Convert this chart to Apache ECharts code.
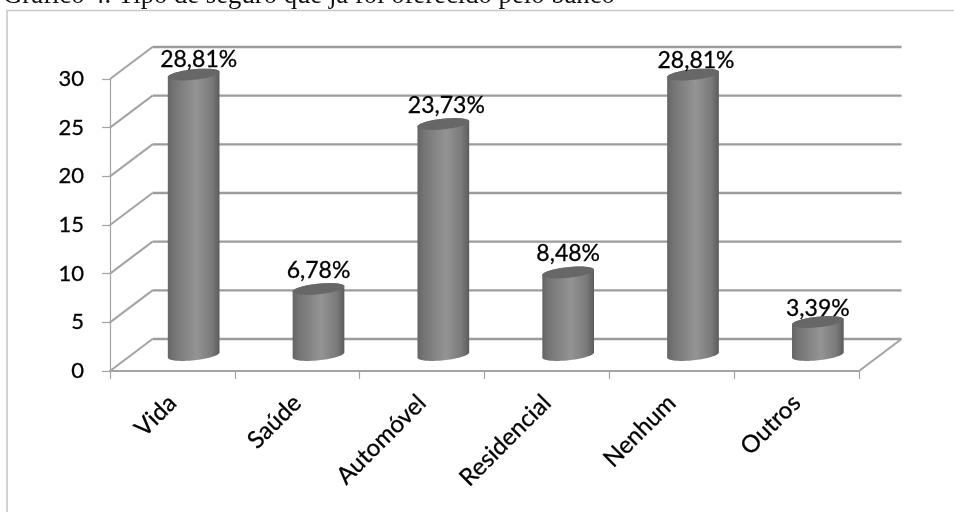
<!DOCTYPE html>
<html>
<head>
<meta charset="utf-8">
<style>html,body{margin:0;padding:0;background:#fff}#chart{width:954px;height:512px}</style>
<script src="https://cdn.jsdelivr.net/npm/echarts@6/dist/echarts.min.js"></script>
</head>
<body>
<div id="chart"></div>
<script>
// Tipo de seguro oferecido pelo banco (%)
var categories = ['Vida', 'Saúde', 'Automóvel', 'Residencial', 'Nenhum', 'Outros'];
var values = [28.81, 6.78, 23.73, 8.48, 28.81, 3.39];
var yTicks = [0, 5, 10, 15, 20, 25, 30];
var titleText = 'Gráfico 4. Tipo de seguro que já foi oferecido pelo banco';

// Depth of the pseudo-3D plot box, in pixels
var DEPTH_X = 42.5, DEPTH_Y = -32;
var RX = 26, RY = 5.3, TILT = -6 * Math.PI / 180;
// Per-label adjustment above each cylinder top
var labelNudge = [[5, -15], [0, -18], [3, -18], [0, -19], [3, -14], [0, -13]];

function ellipsePoints(cx, cy, from, to, n) {
  var pts = [];
  for (var i = 0; i <= n; i++) {
    var t = from + (to - from) * i / n;
    var ex = RX * Math.cos(t), ey = RY * Math.sin(t);
    pts.push([
      cx + ex * Math.cos(TILT) - ey * Math.sin(TILT),
      cy + ex * Math.sin(TILT) + ey * Math.cos(TILT)
    ]);
  }
  return pts;
}

var bodyGradient = {
  type: 'linear', x: 0, y: 0, x2: 1, y2: 0,
  colorStops: [
    { offset: 0, color: '#656565' },
    { offset: 0.12, color: '#747474' },
    { offset: 0.55, color: '#949494' },
    { offset: 0.85, color: '#7a7a7a' },
    { offset: 1, color: '#5c5c5c' }
  ]
};

function renderWall(params, api) {
  var v = api.value(0);
  var a = api.coord([0, v]);
  var size = api.size([1, 0]);
  var left = a[0] - size[0] / 2;
  var right = left + size[0] * categories.length;
  var y = a[1];
  var style = { stroke: '#a3a3a3', lineWidth: 2, fill: null };
  var children = [
    { type: 'line', shape: { x1: left, y1: y, x2: left + DEPTH_X, y2: y + DEPTH_Y }, style: style },
    { type: 'line', shape: { x1: left + DEPTH_X, y1: y + DEPTH_Y, x2: right + DEPTH_X, y2: y + DEPTH_Y },
      style: { stroke: '#9c9c9c', lineWidth: 2.4, fill: null } }
  ];
  if (v === 0) {
    children.push({ type: 'line', shape: { x1: right, y1: y, x2: right + DEPTH_X, y2: y + DEPTH_Y }, style: style });
  }
  return { type: 'group', children: children };
}

function renderCylinder(params, api) {
  var i = api.value(0), v = api.value(1);
  var top = api.coord([i, v]);
  var base = api.coord([i, 0]);
  var cx = top[0] + DEPTH_X / 2, topY = top[1] + DEPTH_Y / 2, baseY = base[1] + DEPTH_Y / 2;
  var body = ellipsePoints(cx, baseY, 0, Math.PI, 40)
    .concat(ellipsePoints(cx, topY, Math.PI, 2 * Math.PI, 40));
  var cap = ellipsePoints(cx, topY, 0, 2 * Math.PI, 60);
  var nudge = labelNudge[i];
  return {
    type: 'group',
    children: [
      { type: 'polygon', shape: { points: body }, style: { fill: bodyGradient } },
      { type: 'polygon', shape: { points: cap }, style: { fill: '#676767' } },
      { type: 'text', x: cx + nudge[0], y: topY + nudge[1], style: {
          text: v.toFixed(2).replace('.', ',') + '%',
          font: '23px Lato', fill: '#000', stroke: '#000', lineWidth: 0.3,
          align: 'center', verticalAlign: 'middle'
      } }
    ]
  };
}

var chart = echarts.init(document.getElementById('chart'), null, { renderer: 'canvas' });
chart.setOption({
  animation: false,
  backgroundColor: '#fff',
  graphic: [
    { type: 'rect', silent: true, shape: { x: 7, y: 10.5, width: 980, height: 540 },
      style: { fill: null, stroke: '#c9c9c9', lineWidth: 1.6 } },
    { type: 'text', silent: true, x: 3, y: 9.5, style: {
        text: titleText, font: '26.7px "Liberation Serif"', fill: '#111', verticalAlign: 'bottom'
    } }
  ],
  grid: { left: 110, right: 95, top: 79, bottom: 141 },
  xAxis: {
    type: 'category',
    data: categories,
    axisLine: { lineStyle: { color: '#a3a3a3', width: 2 } },
    axisTick: { show: true, length: 8, lineStyle: { color: '#a3a3a3', width: 1.2 } },
    axisLabel: { rotate: 45, margin: 28, fontFamily: 'Lato', fontSize: 24, color: '#000', interval: 0,
      textBorderColor: '#000', textBorderWidth: 0.3 },
    splitLine: { show: false }
  },
  yAxis: {
    type: 'value', min: 0, max: 30, interval: 5,
    axisLine: { show: true, lineStyle: { color: '#a3a3a3', width: 1.2 } },
    axisTick: { show: true, length: 8, lineStyle: { color: '#a3a3a3', width: 1.2 } },
    axisLabel: { margin: 26, fontFamily: 'Lato', fontSize: 22, color: '#000', padding: [7, 0, 0, 0],
      textBorderColor: '#000', textBorderWidth: 0.3 },
    splitLine: { show: false }
  },
  series: [
    { type: 'custom', name: 'wall', silent: true, clip: false, z: 1,
      data: yTicks.map(function (t) { return [t]; }),
      encode: { y: 0 }, renderItem: renderWall },
    { type: 'custom', name: 'Seguro', silent: true, clip: false, z: 3,
      data: values.map(function (v, i) { return [i, v]; }),
      encode: { x: 0, y: 1 }, renderItem: renderCylinder }
  ]
});
</script>
</body>
</html>
